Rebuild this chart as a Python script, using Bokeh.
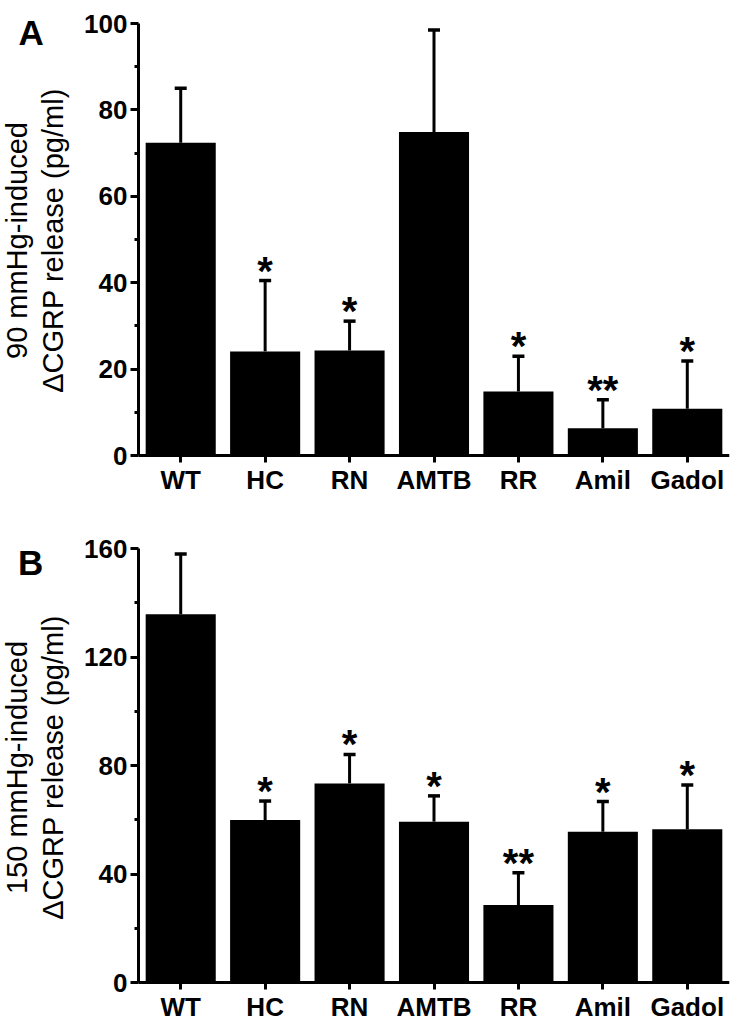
import math
from bokeh.plotting import figure
from bokeh.models import (ColumnDataSource, Range1d, FixedTicker,
                          Whisker, TeeHead)
from bokeh.layouts import column
from bokeh.core.properties import value
from bokeh.embed import file_html
from bokeh.resources import INLINE

# ---------------- data ----------------
cats = ["WT", "HC", "RN", "AMTB", "RR", "Amil", "Gadol"]

a_mean = [72.4, 24.1, 24.3, 74.9, 14.8, 6.3, 10.8]
a_sem = [12.6, 16.4, 6.8, 23.6, 8.2, 6.6, 11.1]
a_sig = ["", "*", "*", "", "*", "**", "*"]
a_ticks = [0, 20, 40, 60, 80, 100]
a_minor = [10, 30, 50, 70, 90]
a_title = ["90 mmHg-induced", "\u0394CGRP release (pg/ml)"]

b_mean = [135.8, 59.9, 73.4, 59.3, 28.6, 55.6, 56.5]
b_sem = [22.2, 7.0, 10.7, 9.5, 11.9, 11.1, 16.3]
b_sig = ["", "*", "*", "*", "**", "*", "*"]
b_ticks = [0, 40, 80, 120, 160]
b_minor = [20, 60, 100, 140]
b_title = ["150 mmHg-induced", "\u0394CGRP release (pg/ml)"]

FONT = "Liberation Sans"

# layout constants (pixels)
AXIS_X = 138          # y-axis position
FRAME_W = 729         # frame spans x = 0 .. 729
PPX = (FRAME_W - AXIS_X) / len(cats)


def panel(letter, mean, sem, sig, ticks, minor, ymax, title,
          fig_h, y_top_px, zero_px, letter_base, letter_x, title_c):
    n = len(cats)
    xs = list(range(n))
    upper = [m + s for m, s in zip(mean, sem)]
    src = ColumnDataSource(dict(x=xs, mean=mean, upper=upper, sig=sig))

    x_start = -0.5 - AXIS_X / PPX
    x_end = x_start + FRAME_W / PPX
    ppy = (zero_px - y_top_px) / ymax
    y_end = zero_px / ppy
    y_start = -(fig_h - zero_px) / ppy

    p = figure(x_range=Range1d(x_start, x_end), y_range=Range1d(y_start, y_end),
               title=None, width=FRAME_W + 2, height=fig_h,
               min_border_left=0, min_border_right=2,
               min_border_top=0, min_border_bottom=0,
               output_backend="svg", toolbar_location=None, tools="")
    p.outline_line_color = None
    p.xgrid.visible = False
    p.ygrid.visible = False
    p.background_fill_color = "white"
    p.border_fill_color = "white"

    p.vbar(x="x", top="mean", width=0.83, source=src,
           fill_color="black", line_color=None)

    w = Whisker(base="x", upper="upper", lower="mean", source=src,
                dimension="height", line_width=3, line_color="black",
                upper_head=TeeHead(size=12, line_width=3.5, line_color="black"),
                lower_head=None)
    p.add_layout(w)

    p.text(x="x", y="upper", text="sig", source=src,
           text_font=value(FONT), text_font_style="bold",
           text_font_size="40px", text_align="center",
           text_baseline="alphabetic", y_offset=-10, text_color="black")

    # y axis, pinned at the left edge of the first category slot
    ya = p.yaxis[0]
    ya.fixed_location = -0.5
    ya.bounds = (0, ymax)
    ya.ticker = FixedTicker(ticks=ticks, minor_ticks=minor)
    ya.axis_line_width = 3
    ya.axis_line_color = "black"
    ya.major_tick_in = 0
    ya.major_tick_out = 8
    ya.major_tick_line_width = 3
    ya.minor_tick_in = 0
    ya.minor_tick_out = 4
    ya.minor_tick_line_width = 3
    ya.major_label_text_font = FONT
    ya.major_label_text_font_style = "bold"
    ya.major_label_text_font_size = "26px"
    ya.major_label_text_color = "black"
    ya.major_label_standoff = 3

    # x axis with category names, pinned at y = 0
    xa = p.xaxis[0]
    xa.fixed_location = 0
    xa.bounds = (-0.5, n - 0.5)
    xa.ticker = FixedTicker(ticks=xs, minor_ticks=[])
    xa.major_label_overrides = {i: c for i, c in zip(xs, cats)}
    xa.axis_line_width = 3
    xa.axis_line_color = "black"
    xa.major_tick_in = 0
    xa.major_tick_out = 7
    xa.major_tick_line_width = 3
    xa.minor_tick_out = 0
    xa.minor_tick_in = 0
    xa.major_label_text_font = FONT
    xa.major_label_text_font_style = "bold"
    xa.major_label_text_font_size = "26px"
    xa.major_label_text_color = "black"
    xa.major_label_standoff = 2

    def dx(px):
        return x_start + px / PPX

    def dy(py):
        return y_end - py / ppy

    # panel letter
    p.text(x=[dx(letter_x)], y=[dy(letter_base)], text=[letter],
           text_font=value(FONT), text_font_style="bold",
           text_font_size="35px", text_align="left",
           text_baseline="alphabetic", text_color="black")
    # two-line y title
    yc = dy(title_c)
    p.text(x=[dx(16), dx(52)], y=[yc, yc], text=title, angle=math.pi / 2,
           text_font=value(FONT), text_font_size="29px",
           text_align="center", text_baseline="middle", text_color="black")
    return p


# panel A (figure 0..528 px): top of axis at 23 px, zero at 455 px
pA = panel("A", a_mean, a_sem, a_sig, a_ticks, a_minor, 100, a_title,
           528, 23, 455, 32, 18, 240)
# panel B (figure 528..1022 px): top of axis at 20 px, zero at 454 px
pB = panel("B", b_mean, b_sem, b_sig, b_ticks, b_minor, 160, b_title,
           494, 20, 454, 34, 17.5, 239)

layout = column(pA, pB)
open("out.html", "w").write(file_html(layout, INLINE))
